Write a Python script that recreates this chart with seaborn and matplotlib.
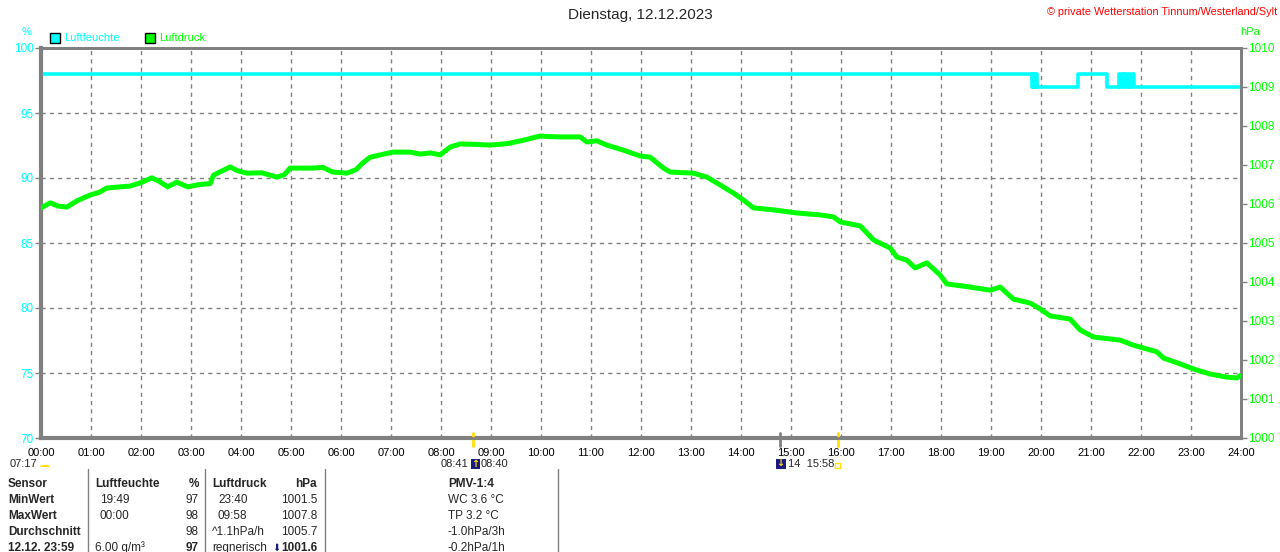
import numpy as np
import pandas as pd
import seaborn as sns
import matplotlib.pyplot as plt
from matplotlib.patches import Rectangle, Wedge

# Luftdruck (hPa)
druck_zeit = ["00:00", "00:11", "00:20", "00:31", "00:43", "00:59", "01:10", "01:19", "01:35", "01:47",
              "01:59", "02:13", "02:22", "02:32", "02:43", "02:56", "03:10", "03:23", "03:27", "03:47",
              "03:55", "04:07", "04:25", "04:43", "04:52", "04:59", "05:26", "05:38", "05:50", "06:07",
              "06:18", "06:26", "06:35", "07:02", "07:23", "07:35", "07:47", "07:59", "08:11", "08:23",
              "08:40", "08:59", "09:20", "09:40", "09:58", "10:20", "10:47", "10:55", "11:07", "11:19",
              "11:39", "11:59", "12:11", "12:27", "12:35", "13:03", "13:19", "13:31", "13:51", "14:03",
              "14:15", "14:39", "15:07", "15:35", "15:51", "15:59", "16:23", "16:39", "16:59", "17:07",
              "17:19", "17:29", "17:43", "17:59", "18:07", "18:35", "18:59", "19:11", "19:27", "19:47",
              "19:59", "20:11", "20:35", "20:47", "21:03", "21:35", "21:51", "22:19", "22:27", "22:47",
              "23:03", "23:23", "23:43", "23:55", "23:59"]
druck_hpa = [1005.90, 1006.03, 1005.95, 1005.92, 1006.08, 1006.23, 1006.30, 1006.41, 1006.44, 1006.46,
             1006.54, 1006.67, 1006.58, 1006.44, 1006.56, 1006.44, 1006.50, 1006.52, 1006.74, 1006.95,
             1006.86, 1006.79, 1006.80, 1006.69, 1006.75, 1006.92, 1006.92, 1006.94, 1006.82, 1006.79,
             1006.88, 1007.05, 1007.20, 1007.33, 1007.33, 1007.28, 1007.31, 1007.26, 1007.46, 1007.54,
             1007.53, 1007.51, 1007.55, 1007.64, 1007.74, 1007.72, 1007.72, 1007.59, 1007.62, 1007.51,
             1007.38, 1007.23, 1007.20, 1006.92, 1006.82, 1006.79, 1006.69, 1006.54, 1006.28, 1006.10,
             1005.90, 1005.85, 1005.77, 1005.72, 1005.67, 1005.54, 1005.44, 1005.08, 1004.87, 1004.64,
             1004.56, 1004.36, 1004.49, 1004.18, 1003.95, 1003.87, 1003.79, 1003.87, 1003.56, 1003.46,
             1003.31, 1003.13, 1003.05, 1002.77, 1002.59, 1002.51, 1002.38, 1002.21, 1002.05, 1001.90,
             1001.77, 1001.64, 1001.56, 1001.54, 1001.60]

# Luftfeuchte (%), step values
feuchte_zeit = ["00:00", "19:49", "19:50", "19:51", "19:52", "19:53", "19:54", "19:55", "19:58", "20:44",
                "21:19", "21:33", "21:35", "21:37", "21:39", "21:41", "21:43", "21:45", "21:47", "21:49",
                "21:51", "23:59"]
feuchte_pct = [98, 97, 98, 97, 98, 97, 98, 97, 97, 98,
               97, 98, 97, 98, 97, 98, 97, 98, 97, 98,
               97, 97]

stunden_labels = ["%02d:00" % h for h in range(25)]


def to_h(s):
    h, m = s.split(":")
    return int(h) + int(m) / 60.0


df_p = pd.DataFrame({"t": [to_h(s) for s in druck_zeit], "hPa": druck_hpa})
df_f = pd.DataFrame({"t": [to_h(s) for s in feuchte_zeit], "pct": feuchte_pct})

sns.set_style("white")
plt.rcParams['font.family'] = ['Liberation Sans', 'DejaVu Sans']

CYAN = "#00FFFF"
GREEN = "#00FF00"
GREY = "#808080"
GOLD = "#FFE000"
NAVY = "#1A1A80"

fig = plt.figure(figsize=(12.8, 5.52), dpi=100)
W, H = 1280.0, 552.0
ax = fig.add_axes([41 / W, 114 / H, 1200 / W, 390 / H])
ax2 = ax.twinx()

sns.lineplot(data=df_f, x="t", y="pct", ax=ax, color=CYAN, linewidth=2.6,
             drawstyle="steps-post", estimator=None, zorder=5)
sns.lineplot(data=df_p, x="t", y="hPa", ax=ax2, color=GREEN, linewidth=3.6,
             estimator=None, zorder=5)

ax.set_xlim(0, 24)
ax.set_ylim(70, 100)
ax2.set_ylim(1000, 1010)
ax.set_xticks(range(25))
ax.set_xticklabels(stunden_labels)
ax.set_yticks(range(70, 101, 5))
ax2.set_yticks(range(1000, 1011))
for a in (ax, ax2):
    a.set_xlabel("")
    a.set_ylabel("")
    for s in a.spines.values():
        s.set_color(GREY)
        s.set_linewidth(2)
ax.spines["left"].set_linewidth(3)
ax.spines["bottom"].set_linewidth(3)

ax.grid(True, color=GREY, linestyle=(0, (3, 3)), linewidth=1)
ax.tick_params(axis="y", colors=GREY, labelcolor=CYAN, labelsize=8.5, direction="out",
               length=4, width=1, pad=1)
ax.tick_params(axis="x", colors=GREY, labelcolor="black", labelsize=8, direction="in",
               length=4, width=1, pad=7)
ax2.tick_params(axis="y", colors=GREY, labelcolor=GREEN, labelsize=8.5, direction="out",
                length=4, width=1, pad=1)

# sunrise / sunset / moon marks on the time axis
tr = ax.get_xaxis_transform()
for t, c in [(to_h("08:38"), GOLD), (to_h("15:56"), GOLD), (to_h("14:47"), GREY)]:
    ax.plot([t, t], [0.013, -0.02], color=c, linewidth=2, transform=tr, clip_on=False, zorder=6)

# titles
fig.text(0.5, 1 - 15 / H, "Dienstag, 12.12.2023", ha="center", va="center", fontsize=11)
fig.text(1277 / W, 1 - 12 / H, "© private Wetterstation Tinnum/Westerland/Sylt", ha="right",
         va="center", fontsize=7.8, color="red")
fig.text(27 / W, 1 - 32 / H, "%", ha="center", va="center", fontsize=8, color=CYAN)
fig.text(1250 / W, 1 - 32 / H, "hPa", ha="center", va="center", fontsize=8, color=GREEN)

# legend
for x0, col, lab in [(50, CYAN, "Luftfeuchte"), (145, GREEN, "Luftdruck")]:
    fig.patches.append(Rectangle((x0 / W, 1 - 43 / H), 10 / W, 10 / H, transform=fig.transFigure,
                                 facecolor=col, edgecolor="black", linewidth=1))
    fig.text((x0 + 14) / W, 1 - 38 / H, lab, ha="left", va="center", fontsize=8, color=col)

# astro line under the axis
ya = 1 - 464 / H
fig.text(10 / W, ya, "07:17", ha="left", va="center", fontsize=8)
fig.patches.append(Wedge((45 / W, 1 - 467 / H), 5 / W, 0, 180, transform=fig.transFigure,
                         facecolor=GOLD, edgecolor="none"))
fig.text(468 / W, ya, "08:41", ha="right", va="center", fontsize=8)
fig.patches.append(Rectangle((471 / W, 1 - 469 / H), 9 / W, 10 / H, transform=fig.transFigure,
                             facecolor=NAVY, edgecolor="none"))
fig.text(475.5 / W, ya, "↑", ha="center", va="center", fontsize=7, color=GOLD,
         family=["DejaVu Sans"], fontweight="bold")
fig.text(481 / W, ya, "08:40", ha="left", va="center", fontsize=8)
fig.patches.append(Rectangle((776 / W, 1 - 469 / H), 10 / W, 10 / H, transform=fig.transFigure,
                             facecolor=NAVY, edgecolor="none"))
fig.text(780 / W, ya + 1 / H, "↓", ha="center", va="center", fontsize=7, color=GOLD,
         family=["DejaVu Sans"], fontweight="bold")
fig.text(788 / W, ya, "14  15:58", ha="left", va="center", fontsize=8)
fig.patches.append(Rectangle((835 / W, 1 - 468 / H), 5 / W, 5 / H, transform=fig.transFigure,
                             facecolor="none", edgecolor=GOLD, linewidth=1))

# table
for xs in [88, 205, 325, 558]:
    fig.add_artist(plt.Line2D([xs / W, xs / W], [1 - 469 / H, 0], color=GREY, linewidth=1))

rows_y = [484, 500, 516, 532, 548]
zeilen = ["Sensor", "MinWert", "MaxWert", "Durchschnitt", "12.12. 23:59"]
lf_zeit = ["Luftfeuchte", "19:49", "00:00", "", "6.00 g/m³"]
lf_wert = ["%", "97", "98", "98", "97"]
ld_zeit = ["Luftdruck", "23:40", "09:58", "^1.1hPa/h", "regnerisch"]
ld_wert = ["hPa", "1001.5", "1007.8", "1005.7", "1001.6"]
pmv = ["PMV-1:4", "WC 3.6 °C", "TP 3.2 °C", "-1.0hPa/3h", "-0.2hPa/1h"]

fs = 8.5
for i, y in enumerate(rows_y):
    yy = 1 - y / H
    hdr = "bold" if i == 0 else "normal"
    fig.text(8 / W, yy, zeilen[i], ha="left", va="center", fontsize=fs, fontweight="bold")
    fig.text((95 if i in (0, 4) else 100) / W, yy, lf_zeit[i], ha="left", va="center",
             fontsize=fs, fontweight=hdr)
    fig.text(199 / W, yy, lf_wert[i], ha="right", va="center", fontsize=fs,
             fontweight="bold" if i in (0, 4) else "normal")
    fig.text((212 if i in (0, 3, 4) else 218) / W, yy, ld_zeit[i], ha="left", va="center",
             fontsize=fs, fontweight=hdr)
    fig.text(317 / W, yy, ld_wert[i], ha="right", va="center", fontsize=fs,
             fontweight="bold" if i in (0, 4) else "normal")
    fig.text(448 / W, yy, pmv[i], ha="left", va="center", fontsize=fs, fontweight=hdr)
fig.text(276 / W, 1 - 548 / H, "⬇", ha="center", va="center", fontsize=7, color=NAVY,
         family=["DejaVu Sans"])

fig.savefig("out.png", dpi=100)
